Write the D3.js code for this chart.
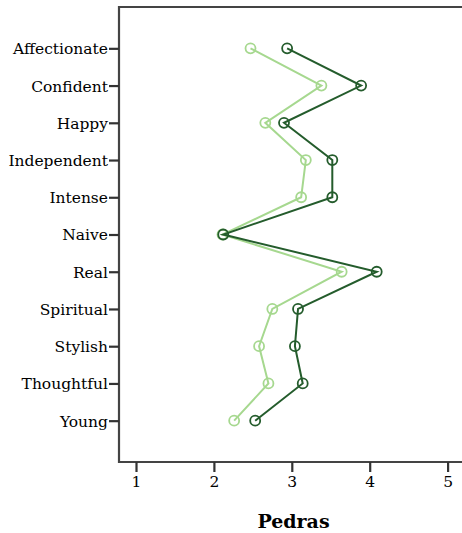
<!DOCTYPE html>
<html>
<head>
<meta charset="utf-8">
<script src="https://cdn.jsdelivr.net/npm/d3@7"></script>
<style>
  body { margin: 0; background: #fff; }
  svg text { font-family: "DejaVu Serif", "Liberation Serif", serif; fill: #000; }
</style>
</head>
<body>
<div id="chart"></div>
<script>
// attributes on the vertical axis
var categories = ["Affectionate", "Confident", "Happy", "Independent", "Intense", "Naive",
                  "Real", "Spiritual", "Stylish", "Thoughtful", "Young"];
// mean scores, two groups
var darkValues  = [2.94, 3.89, 2.90, 3.52, 3.52, 2.12, 4.09, 3.08, 3.04, 3.14, 2.53];
var lightValues = [2.47, 3.38, 2.66, 3.18, 3.12, 2.11, 3.64, 2.75, 2.58, 2.70, 2.26];
var xTicks = [1, 2, 3, 4, 5];
var xTitle = "Pedras";

var width = 462, height = 533;
var plotLeft = 119, plotTop = 7, plotBottom = 462, plotRight = 470;

var svg = d3.select("#chart").append("svg")
  .attr("width", width)
  .attr("height", height);

var x = d3.scaleLinear().domain([1, 5]).range([136, 447.6]);
var y = d3.scalePoint().domain(categories).range([plotTop, plotBottom]).padding(1.11);

// frame: top line, left axis, bottom axis
svg.append("path")
  .attr("d", "M" + plotRight + "," + plotTop + "H" + plotLeft + "V" + plotBottom + "H" + plotRight)
  .attr("fill", "none")
  .attr("stroke", "#444")
  .attr("stroke-width", 2.2);

// y axis
var yAxis = svg.append("g")
  .attr("transform", "translate(" + plotLeft + ",0)")
  .call(d3.axisLeft(y).tickSize(10).tickPadding(1));
yAxis.select(".domain").remove();
yAxis.selectAll(".tick line").attr("stroke", "#333").attr("stroke-width", 2.2);
yAxis.selectAll(".tick text")
  .style("font-size", "15.5px")
  .attr("dy", "0.35em");

// x axis
var xAxis = svg.append("g")
  .attr("transform", "translate(0," + plotBottom + ")")
  .call(d3.axisBottom(x).tickValues(xTicks).tickFormat(d3.format("d")).tickSize(10).tickPadding(4));
xAxis.select(".domain").remove();
xAxis.selectAll(".tick line").attr("stroke", "#333").attr("stroke-width", 2.2);
xAxis.selectAll(".tick text").style("font-size", "15.5px");

svg.append("text")
  .attr("x", (plotLeft + plotRight) / 2 - 1)
  .attr("y", 528)
  .attr("text-anchor", "middle")
  .style("font-size", "19px")
  .style("font-weight", "bold")
  .text(xTitle);

function drawSeries(values, color) {
  var pts = categories.map(function(c, i) { return [x(values[i]), y(c)]; });
  svg.append("path")
    .datum(pts)
    .attr("d", d3.line())
    .attr("fill", "none")
    .attr("stroke", color)
    .attr("stroke-width", 2);
  svg.append("g").selectAll("circle")
    .data(pts)
    .join("circle")
    .attr("cx", function(d) { return d[0]; })
    .attr("cy", function(d) { return d[1]; })
    .attr("r", 5)
    .attr("fill", "none")
    .attr("stroke", color)
    .attr("stroke-width", 1.8);
}

drawSeries(lightValues, "#a6d88f");
drawSeries(darkValues, "#245c2c");
</script>
</body>
</html>
